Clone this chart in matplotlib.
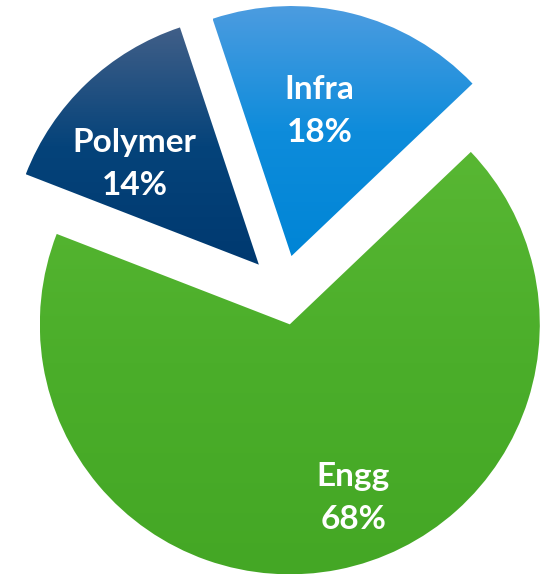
import numpy as np
import matplotlib
matplotlib.use("Agg")
import matplotlib.pyplot as plt
from matplotlib.colors import LinearSegmentedColormap

# data
segments = ["Infra", "Polymer", "Engg"]
shares = [18, 14, 68]

# gradient colours per slice (top, middle, bottom)
grad_colors = [("#4c9ce0", "#0e8cdb", "#0085d6"),
               ("#415f88", "#05437a", "#003970"),
               ("#58b733", "#4bae2a", "#44a725")]
explode = [0.14, 0.14, 0.14]
# label placement relative to each wedge apex (radius fraction, angle in degrees)
label_pos = [(0.59, 79), (0.64, 141), (0.74, 290)]

fig = plt.figure(figsize=(5.52, 5.75), dpi=100)
ax = fig.add_axes([0, 0, 1, 1])

wedges, _ = ax.pie(shares, explode=explode, startangle=43.6, counterclock=True,
                   radius=1, center=(0, 0), wedgeprops=dict(linewidth=0))

for w, (c_top, c_mid, c_bot) in zip(wedges, grad_colors):
    ext = w.get_path().get_extents()
    cmap = LinearSegmentedColormap.from_list("g", [(0, c_bot), (0.5, c_mid), (1, c_top)])
    grad = np.linspace(0, 1, 256).reshape(-1, 1)
    im = ax.imshow(grad, cmap=cmap, origin="lower", aspect="auto",
                   extent=[ext.x0, ext.x1, ext.y0, ext.y1], interpolation="bilinear")
    im.set_clip_path(w)
    w.set_facecolor("none")

for w, name, val, (r, ang) in zip(wedges, segments, shares, label_pos):
    cx, cy = w.center
    x = cx + r * np.cos(np.radians(ang))
    y = cy + r * np.sin(np.radians(ang))
    ax.text(x, y, f"{name}\n{val}%", ha="center", va="center", color="white",
            fontsize=24, fontweight="bold", family="Lato", linespacing=1.6)

ax.set_xlim(-1.132, 1.076)
ax.set_ylim(-1.14, 1.16)
ax.set_aspect("auto")
ax.axis("off")

fig.savefig("out.png", dpi=100)
